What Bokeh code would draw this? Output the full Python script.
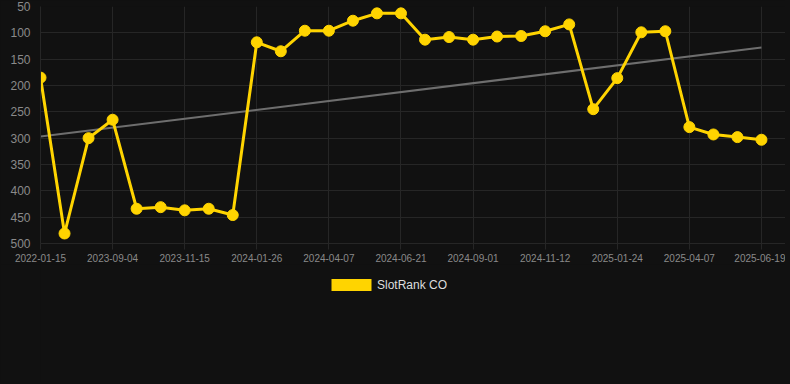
from bokeh.plotting import figure
from bokeh.layouts import column
from bokeh.models import Range1d, FixedTicker, Legend, LegendItem, ColumnDataSource
from bokeh.embed import file_html
from bokeh.resources import INLINE

# ---- data ----
series_name = "SlotRank CO"
tick_labels = ["2022-01-15", "2023-09-04", "2023-11-15", "2024-01-26", "2024-04-07",
               "2024-06-21", "2024-09-01", "2024-11-12", "2025-01-24", "2025-04-07",
               "2025-06-19"]
ranks = [185, 481, 300, 265, 434, 431, 437, 434, 446, 118, 135, 96, 96, 77, 63, 63,
         113, 108, 113, 107, 106, 97, 84, 245, 186, 99, 97, 279, 293, 298, 303]
trend_values = [297, 128]          # trend line at first and last point
y_ticks = [50, 100, 150, 200, 250, 300, 350, 400, 450, 500]

BG = "#111111"
GRID = "#262626"
TXT = "#8a8a8a"
YEL = "#FFD400"
FONT = "Liberation Sans"

n = len(ranks)
idx = list(range(n))
label_step = (n - 1) // (len(tick_labels) - 1)
tick_pos = idx[::label_step]

p = figure(frame_width=745, frame_height=237, output_backend="svg", toolbar_location=None,
           x_range=Range1d(0, 31.0), y_range=Range1d(500, 50),
           min_border_left=40, min_border_right=0, min_border_top=6,
           min_border_bottom=0,
           background_fill_color=BG, border_fill_color=BG)
p.outline_line_color = None

# axes
p.xaxis.ticker = FixedTicker(ticks=tick_pos)
p.xaxis.major_label_overrides = {t: lab for t, lab in zip(tick_pos, tick_labels)}
p.yaxis.ticker = FixedTicker(ticks=y_ticks)
for ax in (p.xaxis[0], p.yaxis[0]):
    ax.axis_line_color = GRID
    ax.major_tick_line_color = GRID
    ax.minor_tick_line_color = None
    ax.major_label_text_color = TXT
    ax.major_label_text_font = FONT
    ax.major_tick_in = 0
p.xaxis.major_tick_out = 6
p.xaxis.major_label_standoff = 4
p.xaxis.major_label_text_font_size = "10px"
p.yaxis.major_tick_out = 0
p.yaxis.major_label_standoff = 10
p.yaxis.major_label_text_font_size = "12px"

p.xgrid.grid_line_color = GRID
p.ygrid.grid_line_color = GRID

# trend line
p.line([idx[0], idx[-1]], trend_values, line_color="#6e6e6e", line_width=2)

# series
src = ColumnDataSource(dict(x=idx, y=ranks))
p.line("x", "y", source=src, line_color=YEL, line_width=3, line_join="round")
p.scatter("x", "y", source=src, size=11, fill_color=YEL, line_color=YEL)

# ---- legend strip below the chart ----
p2 = figure(width=785, height=118, output_backend="svg", toolbar_location=None,
            x_range=Range1d(0, 1), y_range=Range1d(0, 1), min_border=0,
            background_fill_color=BG, border_fill_color=BG)
p2.outline_line_color = None
p2.axis.visible = False
p2.grid.visible = False
# zero-height area over the series: draws nothing, only supplies the legend swatch
swatch = p2.varea(x="x", y1="y", y2="y", source=src, fill_color=YEL)
legend = Legend(items=[LegendItem(label=series_name, renderers=[swatch])],
                location=(286, 90), orientation="horizontal",
                glyph_width=50, glyph_height=15, label_height=12,
                label_text_font=FONT, label_text_font_size="12px",
                label_text_color="#dddddd", label_standoff=1,
                margin=0, padding=10,
                border_line_color=None, background_fill_alpha=0)
p2.add_layout(legend, "center")

layout = column(p, p2, spacing=0, styles={"background-color": BG})

html = file_html(layout, INLINE)
html = html.replace("<head>", "<head><style>body{background:#111111;}</style>", 1)
open("out.html", "w").write(html)
